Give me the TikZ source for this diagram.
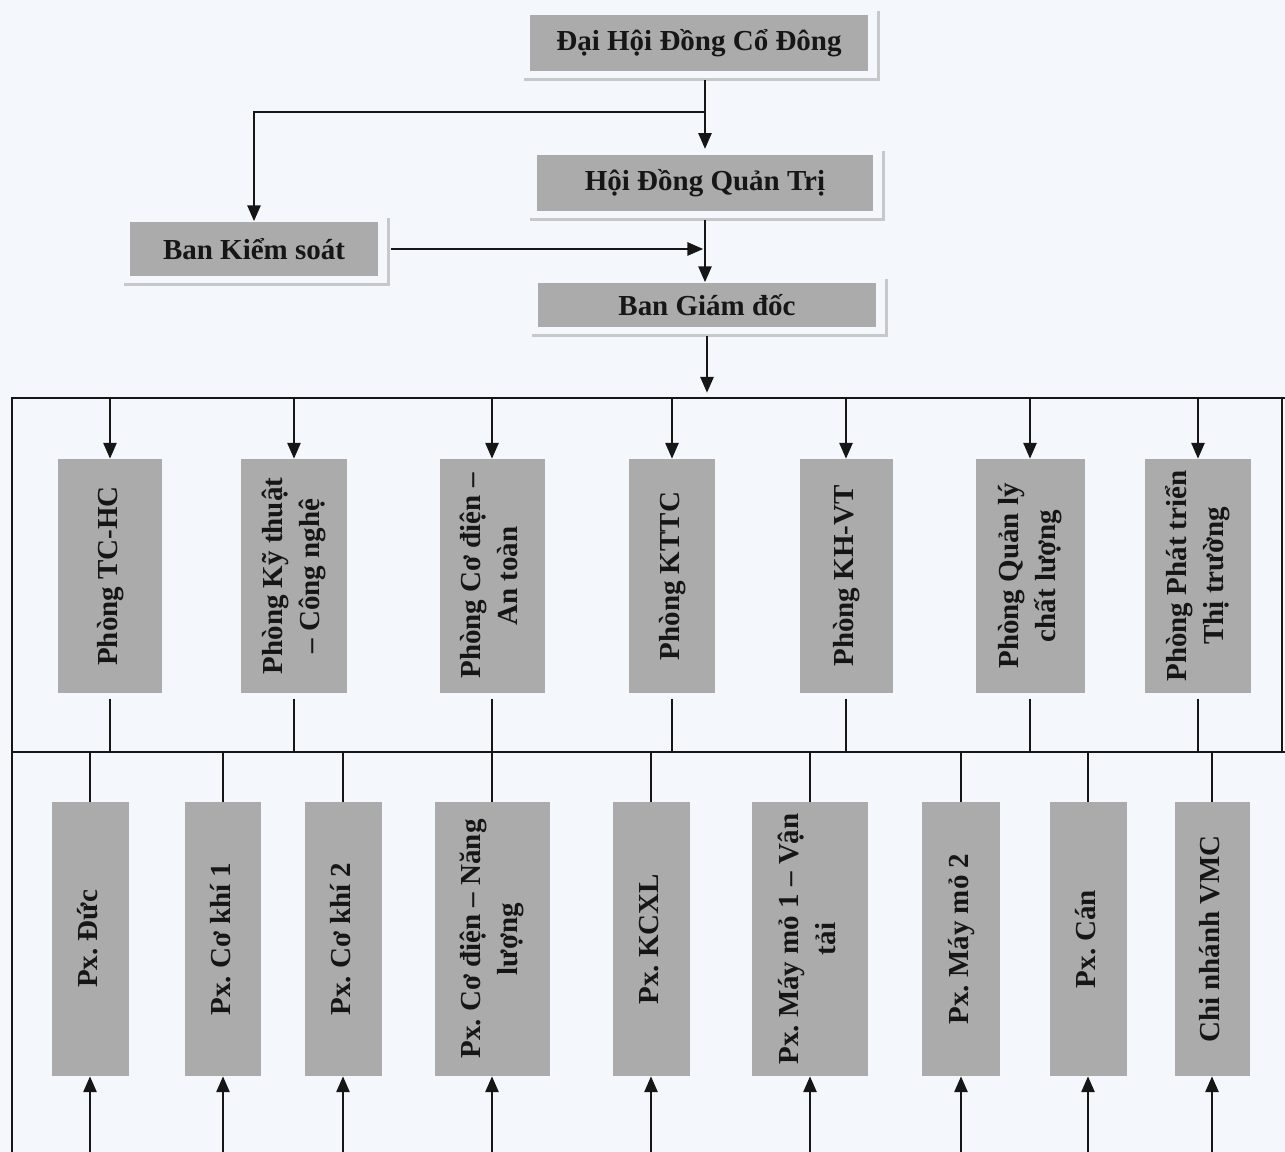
\documentclass[tikz,border=0pt]{standalone}
\usepackage{fontspec}
\setmainfont{Liberation Serif}
\usepackage{graphicx}
\usepackage{tikz}
\usetikzlibrary{arrows.meta, positioning, calc}
\definecolor{pagebg}{HTML}{F4F7FB}
\definecolor{boxgray}{HTML}{ABABAB}
\definecolor{shadowgray}{HTML}{C6C8CA}
\definecolor{inkdark}{HTML}{161616}
\frenchspacing

\begin{document}
\begin{tikzpicture}[
    x=0.02cm, y=-0.02cm,
    box/.style={rectangle, fill=boxgray, text=inkdark, inner sep=0pt,
        font=\fontsize{16.5}{21}\selectfont\bfseries},
    vbox/.style={box, minimum height=4.68cm},
    pxbox/.style={box, minimum height=5.48cm},
    shadowline/.style={draw=shadowgray, line width=1.6pt},
    arr/.style={-{Triangle[length=9pt, width=7.5pt]}, line width=1.2pt, color=inkdark},
    link/.style={line width=0.9pt, color=inkdark},
    frame/.style={line width=1.7pt, color=inkdark}
]

% page and size
\fill[pagebg] (0,0) rectangle (1285,1152);
\useasboundingbox (0,0) rectangle (1285,1152);

% Top management
\node[box, minimum width=6.76cm, minimum height=1.14cm] (dhcd) at (699,43) {Đại Hội Đồng Cổ Đông};
\node[box, minimum width=6.74cm, minimum height=1.14cm] (hdqt) at (705,183) {Hội Đồng Quản Trị};
\node[box, minimum width=4.96cm, minimum height=1.10cm] (bks) at (254,249) {Ban Kiểm soát};
\node[box, minimum width=6.76cm, minimum height=0.90cm] (bgd) at (707,305) {Ban Giám đốc};

\foreach \n in {dhcd,hdqt,bks,bgd}
    \draw[shadowline] ([shift={(-6,8)}]\n.south west) -- ([shift={(10,8)}]\n.south east) -- ([shift={(10,-3)}]\n.north east);

% Frame
\coordinate (tl) at (12,398);
\coordinate (tr) at (1285,398);
\coordinate (ml) at (12,752);
\coordinate (mr) at (1285,752);
\coordinate (bl) at (12,1152);
\draw[frame] (tr) -- (tl) -- (bl);
\draw[frame] (ml) -- (mr);
\draw[link] (1282,398) -- (1282,752);

% Arrows between the top boxes
\coordinate (split) at (705,112);
\draw[arr] ([yshift=-4.5pt]dhcd.south -| hdqt.north) -- ([yshift=3pt]hdqt.north);
\draw[arr] (split) -| (bks.north);
\draw[arr] ([yshift=-4.5pt]hdqt.south) -- (hdqt.south |- bgd.north);
\draw[arr] ([xshift=7pt]bks.east) -- ([xshift=-1pt]bks.east -| hdqt.south);
\draw[arr] ([yshift=-4.5pt]bgd.south) -- ([yshift=3pt]bgd.south |- tl);

% Phong ban
\foreach \i/\cx/\w/\t in {
    1/110/104/Phòng TC-HC,
    2/294/106/Phòng Kỹ thuật\\– Công nghệ,
    3/492/105/Phòng Cơ điện –\\An toàn,
    4/672/86/Phòng KTTC,
    5/846/93/Phòng KH-VT,
    6/1030/109/Phòng Quản lý\\chất lượng,
    7/1198/106/Phòng Phát triển\\Thị trường}
{
    \node[vbox, minimum width=\w*0.02cm] (p\i) at (\cx,576)
        {\rotatebox{90}{\begin{tabular}{@{}c@{}}\t\end{tabular}}};
    \draw[arr] (p\i.north |- tl) -- (p\i.north);
}

% Phan xuong
\foreach \i/\cx/\w/\t in {
    1/90/77/Px. Đức,
    2/223/76/Px. Cơ khí 1,
    3/343/77/Px. Cơ khí 2,
    4/492/115/Px. Cơ điện – Năng\\lượng,
    5/651/77/Px. KCXL,
    6/810/116/Px. Máy mỏ 1 – Vận\\tải,
    7/961/78/Px. Máy mỏ 2,
    8/1088/77/Px. Cán,
    9/1212/75/Chi nhánh VMC}
{
    \node[pxbox, minimum width=\w*0.02cm] (x\i) at (\cx,939)
        {\rotatebox{90}{\begin{tabular}{@{}c@{}}\t\end{tabular}}};
    \draw[arr] (x\i.south |- bl) -- (x\i.south);
}

% Links through the middle line
\foreach \i in {1,2,4,5,6,7}
    \draw[link] ([yshift=-3pt]p\i.south) -- (p\i.south |- ml);
\draw[link] ([yshift=-3pt]p3.south) -- (x4.north);
\foreach \i in {1,2,3,5,6,7,8,9}
    \draw[link] (x\i.north |- ml) -- (x\i.north);

\end{tikzpicture}
\end{document}
